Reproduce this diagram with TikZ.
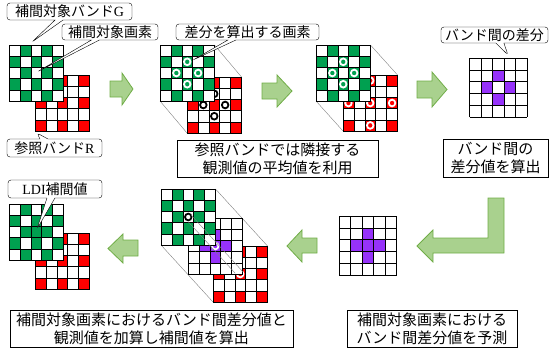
\documentclass[tikz,border=0pt]{standalone}
\usepackage{fontspec}
\setmainfont{Liberation Serif}
\newfontfamily\jpfont{Noto Sans CJK JP}
\usetikzlibrary{shapes.callouts}
\definecolor{bandgreen}{RGB}{0,160,80}
\definecolor{bandred}{RGB}{255,0,0}
\definecolor{bandviolet}{RGB}{150,50,250}
\definecolor{arrowfill}{RGB}{169,209,142}
\definecolor{arrowedge}{RGB}{112,173,71}

\newcommand{\drawband}[5][1]{%
	\begin{scope}[shift={#2},scale=#1,xscale=10.9,yscale=11.2]
		\fill[white] (0,0) rectangle (5,5);
		\foreach \c/\r in #4 \fill[#3] (\c,\r) rectangle ++(1,1);
		\foreach \i in {0,...,5} \draw[grid line] (\i,0) -- (\i,5) (0,\i) -- (5,\i);
		#5
	\end{scope}}
\newcommand{\greencells}{1/0,3/0,0/1,2/1,4/1,1/2,3/2,0/3,2/3,4/3,1/4,3/4}
\newcommand{\greenfull}{1/0,3/0,0/1,2/1,4/1,1/2,2/2,3/2,0/3,2/3,4/3,1/4,3/4}
\newcommand{\redcells}{0/0,2/0,4/0,0/2,2/2,4/2,0/4,2/4,4/4}
\newcommand{\nearcells}{2/1,1/2,3/2,2/3}
\newcommand{\crosscells}{2/1,1/2,2/2,3/2,2/3}
\newcommand{\redmarks}{2/0,0/2,2/2,4/2,2/4}

\begin{document}
\begin{tikzpicture}[x=1pt,y=-1pt,
		call out/.style = {rectangle callout, draw, fill=white, rounded corners=3pt,
			callout pointer width=8pt, inner sep=1pt, font=\jpfont\fontsize{14}{16}\selectfont},
		text box/.style = {draw, fill=white, align=center, inner sep=1pt,
			font=\jpfont\fontsize{15}{18}\selectfont},
		block arrow/.style = {fill=arrowfill, draw=arrowedge, line width=0.8pt},
		ring/.style = {line width=1.8pt},
		grid line/.style = {line width=0.6pt},
		side line/.style = {gray, line width=0.4pt}]
		
		\useasboundingbox (0,0) rectangle (549,354);
		
		\draw[side line] (214.5,45) -- (241.5,77) (160,101) -- (187,133);
		\draw[side line] (370.5,45) -- (397.5,75) (316,101) -- (343,131);
		\draw[side line] (215.5,189) -- (267.5,246) (161,245) -- (213,302);
		
		\drawband{(35,75)}{bandred}{\redcells}{}
		\drawband{(9,45)}{bandgreen}{\greencells}{}
		
		\drawband{(187,77)}{bandred}{\redcells}{
			\foreach \c/\r in \nearcells \draw[ring,black] (\c+.5,\r+.5) circle (.3);}
		\drawband{(160,45)}{bandgreen}{\greencells}{
			\foreach \c/\r in \nearcells \draw[ring,white] (\c+.5,\r+.5) circle (.3);}
		
		\drawband{(343,75)}{bandred}{\redcells}{
			\foreach \c/\r in \redmarks \draw[ring,white] (\c+.5,\r+.5) circle (.3);}
		\drawband{(316,45)}{bandgreen}{\greencells}{
			\foreach \c/\r in \nearcells \draw[ring,white] (\c+.5,\r+.5) circle (.3);}
		
		\drawband[1.055]{(469.5,58)}{bandviolet}{\nearcells}{}
		\drawband[1.055]{(339,216)}{bandviolet}{\crosscells}{}
		
		\drawband{(213,246)}{bandred}{\redcells}{\draw[ring,white] (2.5,2.5) circle (.3);}
		\drawband{(188,218)}{bandviolet}{\crosscells}{\draw[ring,white] (2.5,2.5) circle (.3);}
		\drawband{(161,189)}{bandgreen}{\greencells}{\draw[ring,black] (2.5,2.5) circle (.3);}
		\draw[side line, shorten <=4pt, shorten >=4pt] (190.9,214.8) -- (242.9,271.8) (185.9,219.2) -- (237.9,276.2);
		
		\drawband{(35,233)}{bandred}{\redcells}{}
		\drawband{(9,204)}{bandgreen}{\greenfull}{}
		
		\draw[block arrow] (110,81) -- (122,81) -- (122,73) -- (133,89) -- (122,105) -- (122,97) -- (110,97) -- cycle;
		\draw[block arrow] (262,83) -- (277,83) -- (277,75) -- (292,91) -- (277,107) -- (277,99) -- (262,99) -- cycle;
		\draw[block arrow] (417,81) -- (432,81) -- (432,72) -- (447,89.5) -- (432,107) -- (432,98) -- (417,98) -- cycle;
		\draw[block arrow] (504,198) -- (504,253) -- (433,253) -- (433,262) -- (417,246) -- (433,230)
		-- (433,238) -- (488,238) -- (488,198) -- cycle;
		\draw[block arrow] (317,238) -- (302,238) -- (302,230) -- (287,246) -- (302,262) -- (302,253) -- (317,253) -- cycle;
		\draw[block arrow] (138,240) -- (123,240) -- (123,234) -- (108,248.5) -- (123,263) -- (123,256) -- (138,256) -- cycle;
		
		\node[call out, minimum width=125, minimum height=17, callout absolute pointer={(32,42)}] (1) at (69.5,11.5) {補間対象バンド\rmfamily G};
		\node[call out, minimum width=96, minimum height=16, callout absolute pointer={(37,72)}] (2) at (110,32) {補間対象画素};
		\node[call out, minimum width=143, minimum height=16, callout absolute pointer={(193,60)}] (3) at (247.5,32) {差分を算出する画素};
		\node[call out, minimum width=95, minimum height=18, callout absolute pointer={(37,133)}] (4) at (54.5,148) {参照バンド\rmfamily R};
		\node[call out, minimum width=107, minimum height=16, callout absolute pointer={(508,55)}] (5) at (494.5,35) {バンド間の差分};
		\node[call out, minimum width=94, minimum height=18, callout absolute pointer={(37,229)}] (6) at (55,189) {\rmfamily LDI\jpfont 補間値};
		
		\node[text box, minimum width=201, minimum height=37] (7) at (277.5,158.5) {参照バンドでは隣接する\\観測値の平均値を利用};
		\node[text box, minimum width=105, minimum height=38] (8) at (495.5,158) {バンド間の\\差分値を算出};
		\node[text box, minimum width=283, minimum height=37] (9) at (151.5,328.5) {補間対象画素におけるバンド間差分値と\\観測値を加算し補間値を算出};
		\node[text box, minimum width=170, minimum height=37] (10) at (432,328.5) {補間対象画素における\\バンド間差分値を予測};
		\end{tikzpicture}
\end{document}
